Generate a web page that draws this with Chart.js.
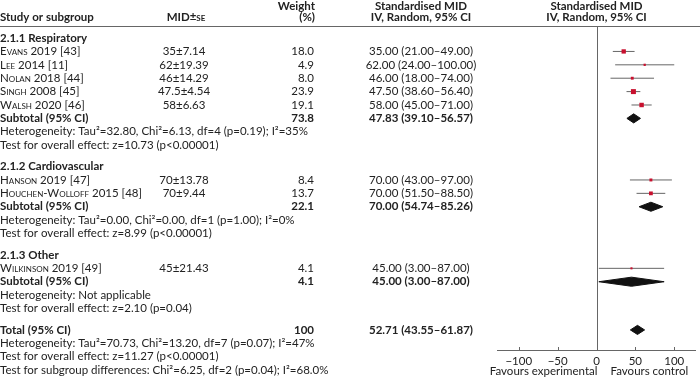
<!DOCTYPE html>
<html>
<head>
<meta charset="utf-8">
<script src="https://cdn.jsdelivr.net/npm/chart.js@4.4.0/dist/chart.umd.min.js"></script>
<style>
  body { margin: 0; background: #fff; }
  canvas { display: block; }
</style>
</head>
<body>
<canvas id="forest" width="700" height="382"></canvas>
<script>
// study level data
const studies = ['Evans 2019 [43]', 'Lee 2014 [11]', 'Nolan 2018 [44]', 'Singh 2008 [45]', 'Walsh 2020 [46]',
  'Hanson 2019 [47]', 'Houchen-Wolloff 2015 [48]', 'Wilkinson 2019 [49]'];
const studyGroup = [0, 0, 0, 0, 0, 1, 1, 2];
const mid = [35, 62, 46, 47.5, 58, 70, 70, 45];
const se = [7.14, 19.39, 14.29, 4.54, 6.63, 13.78, 9.44, 21.43];
const weight = [18.0, 4.9, 8.0, 23.9, 19.1, 8.4, 13.7, 4.1];
const ciLow = [21, 24, 18, 38.6, 45, 43, 51.5, 3];
const ciHigh = [49, 100, 74, 56.4, 71, 97, 88.5, 87];

// subgroups
const groups = ['2.1.1 Respiratory', '2.1.2 Cardiovascular', '2.1.3 Other'];
const subMid = [47.83, 70.00, 45.00];
const subLow = [39.10, 54.74, 3.00];
const subHigh = [56.57, 85.26, 87.00];
const subWeight = [73.8, 22.1, 4.1];
const subHeterogeneity = [
  'Heterogeneity: Tau\u00b2=32.80, Chi\u00b2=6.13, df=4 (p=0.19); I\u00b2=35%',
  'Heterogeneity: Tau\u00b2=0.00, Chi\u00b2=0.00, df=1 (p=1.00); I\u00b2=0%',
  'Heterogeneity: Not applicable'
];
const subEffect = [
  'Test for overall effect: z=10.73 (p<0.00001)',
  'Test for overall effect: z=8.99 (p<0.00001)',
  'Test for overall effect: z=2.10 (p=0.04)'
];

// overall
const totalMid = 52.71, totalLow = 43.55, totalHigh = 61.87, totalWeight = 100;
const totalNotes = [
  'Heterogeneity: Tau\u00b2=70.73, Chi\u00b2=13.20, df=7 (p=0.07); I\u00b2=47%',
  'Test for overall effect: z=11.27 (p<0.00001)',
  'Test for subgroup differences: Chi\u00b2=6.25, df=2 (p=0.04); I\u00b2=68.0%'
];

const xTicks = [-100, -50, 0, 50, 100];
const favourLabels = ['Favours experimental', 'Favours control'];

// layout of rows (in line units)
const SECTION_GAP = 0.6;
const rows = [];
let line = 0;
groups.forEach((g, gi) => {
  if (gi > 0) line += SECTION_GAP;
  rows.push({ kind: 'group', gi, line: line++ });
  studies.forEach((s, i) => {
    if (studyGroup[i] === gi) rows.push({ kind: 'study', i, line: line++ });
  });
  rows.push({ kind: 'subtotal', gi, line: line++ });
  rows.push({ kind: 'note', text: subHeterogeneity[gi], line: line++ });
  rows.push({ kind: 'note', text: subEffect[gi], line: line++ });
});
line += SECTION_GAP;
rows.push({ kind: 'total', line: line++ });
totalNotes.forEach(t => rows.push({ kind: 'note', text: t, line: line++ }));

const lineOf = (kind, idx) => rows.find(r => r.kind === kind &&
  (kind === 'study' ? r.i === idx : kind === 'subtotal' ? r.gi === idx : true)).line;

const FONT = 'Lato, "Noto Sans", sans-serif';
const FS = '11.5px ';
const TEXT = '#222';
const RED = '#c8102e';
const GREY = '#666';
const DIAMOND_H = 0.34;

function diamond(lo, m, hi, y) {
  return {
    data: [{ x: lo, y }, { x: m, y: y - DIAMOND_H }, { x: hi, y }, { x: m, y: y + DIAMOND_H }, { x: lo, y }],
    showLine: true, fill: 'shape', backgroundColor: '#111', borderColor: '#111',
    borderWidth: 1, pointRadius: 0, tension: 0
  };
}

const datasets = [];
// squares
datasets.push({
  data: studies.map((s, i) => ({ x: mid[i], y: lineOf('study', i) })),
  pointStyle: 'rect',
  pointRadius: ctx => Math.sqrt(weight[ctx.dataIndex]) * 0.72,
  backgroundColor: RED, borderWidth: 0
});
// whiskers
studies.forEach((s, i) => {
  datasets.push({
    data: [{ x: ciLow[i], y: lineOf('study', i) }, { x: ciHigh[i], y: lineOf('study', i) }],
    showLine: true, borderColor: GREY, borderWidth: 1, pointRadius: 0
  });
});
// subtotal + total diamonds
groups.forEach((g, gi) => datasets.push(diamond(subLow[gi], subMid[gi], subHigh[gi], lineOf('subtotal', gi))));
datasets.push(diamond(totalLow, totalMid, totalHigh, lineOf('total')));

const fmtCI = (m, lo, hi) => `${m.toFixed(2)} (${lo.toFixed(2)}\u2013${hi.toFixed(2)})`;

const tablePlugin = {
  id: 'forestTable',
  afterDraw(chart) {
    const { ctx, chartArea, scales: { x, y } } = chart;
    const cMid = 184, cWeight = 314, cCI = 421;
    const zero = x.getPixelForValue(0);
    ctx.save();
    ctx.textBaseline = 'middle';

    // header
    ctx.fillStyle = TEXT;
    const h1 = y.getPixelForValue(-2.4), h2 = y.getPixelForValue(-1.55);
    ctx.font = 'bold ' + FS + FONT;
    ctx.textAlign = 'left';
    ctx.fillText('Study or subgroup', 0, h2);
    // MID±SE with small caps SE, centred as a whole
    const wA = ctx.measureText('MID\u00b1').width;
    ctx.font = 'bold small-caps ' + FS + FONT;
    const wB = ctx.measureText('se').width;
    const sx = cMid + 2 - (wA + wB) / 2;
    ctx.fillText('se', sx + wA, h2);
    ctx.font = 'bold ' + FS + FONT;
    ctx.fillText('MID\u00b1', sx, h2);
    ctx.textAlign = 'right';
    ctx.fillText('Weight', cWeight + 1, h1);
    ctx.fillText('(%)', cWeight + 1, h2);
    ctx.textAlign = 'center';
    ctx.fillText('Standardised MID', cCI, h1);
    ctx.fillText('IV, Random, 95% CI', cCI, h2);
    ctx.fillText('Standardised MID', zero, h1);
    ctx.fillText('IV, Random, 95% CI', zero, h2);

    // rules
    ctx.strokeStyle = GREY;
    ctx.lineWidth = 1;
    ctx.beginPath();
    ctx.moveTo(0, chartArea.top + 0.5);
    ctx.lineTo(chart.width, chartArea.top + 0.5);
    ctx.moveTo(Math.round(zero) + 0.5, chartArea.top);
    ctx.lineTo(Math.round(zero) + 0.5, chartArea.bottom);
    ctx.moveTo(chartArea.left, chartArea.bottom + 0.5);
    ctx.lineTo(chartArea.right, chartArea.bottom + 0.5);
    xTicks.forEach(t => {
      const px = Math.round(x.getPixelForValue(t)) + 0.5;
      ctx.moveTo(px, chartArea.bottom - 3);
      ctx.lineTo(px, chartArea.bottom);
    });
    ctx.stroke();

    // axis labels
    ctx.font = FS + FONT;
    ctx.textAlign = 'center';
    xTicks.forEach(t => {
      ctx.fillText(t < 0 ? '\u2212' + Math.abs(t) : String(t), x.getPixelForValue(t), chartArea.bottom + 11);
    });
    ctx.fillText(favourLabels[0], x.getPixelForValue(-68), chartArea.bottom + 21);
    ctx.fillText(favourLabels[1], x.getPixelForValue(68), chartArea.bottom + 21);

    // table rows
    rows.forEach(r => {
      const py = y.getPixelForValue(r.line);
      ctx.fillStyle = TEXT;
      if (r.kind === 'group') {
        ctx.font = 'bold ' + FS + FONT;
        ctx.textAlign = 'left';
        ctx.fillText(groups[r.gi], 0, py);
      } else if (r.kind === 'study') {
        const i = r.i;
        ctx.font = 'small-caps ' + FS + FONT;
        ctx.textAlign = 'left';
        ctx.fillText(studies[i], 0, py);
        ctx.font = FS + FONT;
        ctx.textAlign = 'center';
        ctx.fillText(`${mid[i]}\u00b1${se[i].toFixed(2)}`, cMid, py);
        ctx.textAlign = 'right';
        ctx.fillText(weight[i].toFixed(1), cWeight, py);
        ctx.textAlign = 'center';
        ctx.fillText(fmtCI(mid[i], ciLow[i], ciHigh[i]), cCI, py);
      } else if (r.kind === 'subtotal' || r.kind === 'total') {
        const isTotal = r.kind === 'total';
        ctx.font = 'bold ' + FS + FONT;
        ctx.textAlign = 'left';
        ctx.fillText(isTotal ? 'Total (95% CI)' : 'Subtotal (95% CI)', 0, py);
        ctx.textAlign = 'right';
        ctx.fillText(isTotal ? String(totalWeight) : subWeight[r.gi].toFixed(1), cWeight, py);
        ctx.textAlign = 'center';
        ctx.fillText(isTotal ? fmtCI(totalMid, totalLow, totalHigh)
          : fmtCI(subMid[r.gi], subLow[r.gi], subHigh[r.gi]), cCI, py);
      } else {
        ctx.font = FS + FONT;
        ctx.textAlign = 'left';
        ctx.fillText(r.text, 0, py);
      }
    });
    ctx.restore();
  }
};

new Chart(document.getElementById('forest').getContext('2d'), {
  type: 'scatter',
  data: { datasets },
  options: {
    responsive: false,
    animation: false,
    devicePixelRatio: 1,
    layout: { padding: { left: 497, right: 1, top: 26, bottom: 32 } },
    scales: {
      x: { type: 'linear', min: -128, max: 128, display: false },
      y: { type: 'linear', min: -0.9, max: 23.3, reverse: true, display: false }
    },
    plugins: { legend: { display: false }, tooltip: { enabled: false } },
    events: []
  },
  plugins: [tablePlugin]
});
</script>
</body>
</html>
